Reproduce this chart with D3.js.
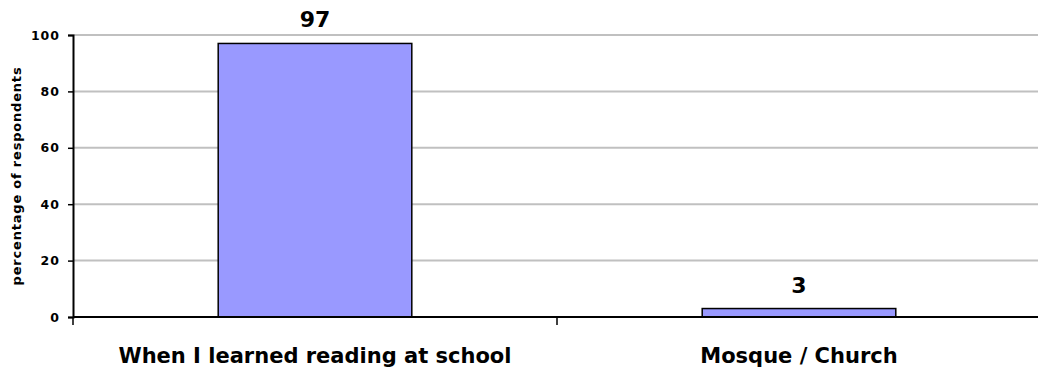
<!DOCTYPE html>
<html>
<head>
<meta charset="utf-8">
<script src="https://cdn.jsdelivr.net/npm/d3@7"></script>
<style>
  html, body { margin: 0; padding: 0; background: #fff; }
  svg { display: block; font-family: "DejaVu Sans", Verdana, sans-serif; }
</style>
</head>
<body>
<svg id="chart" width="1038" height="373"></svg>
<script>
// Where respondents learned to read (percent of respondents)
const categories = ["When I learned reading at school", "Mosque / Church"];
const values = [97, 3];
const yTicks = [0, 20, 40, 60, 80, 100];
const yTitle = "percentage of respondents";

const svg = d3.select("#chart");
const margin = { left: 73, right: -3, top: 35, bottom: 56 };
const W = 1038, H = 373;

const x = d3.scaleBand()
  .domain(categories)
  .range([margin.left, W - margin.right])
  .paddingInner(0.6)
  .paddingOuter(0.3);
const band = d3.scaleBand().domain(categories).range([margin.left, W - margin.right]);

const y = d3.scaleLinear().domain([0, 100]).range([H - margin.bottom, margin.top]);

// horizontal gridlines
svg.append("g")
  .selectAll("line")
  .data(yTicks.filter(d => d > 0))
  .join("line")
  .attr("x1", margin.left)
  .attr("x2", W)
  .attr("y1", d => y(d))
  .attr("y2", d => y(d))
  .attr("stroke", "#c0c0c0")
  .attr("stroke-width", 2);

// bars
svg.append("g")
  .selectAll("rect")
  .data(values)
  .join("rect")
  .attr("x", (d, i) => x(categories[i]))
  .attr("width", x.bandwidth())
  .attr("y", d => y(d))
  .attr("height", d => y(0) - y(d))
  .attr("fill", "#9999ff")
  .attr("stroke", "#000")
  .attr("stroke-width", 1.5);

// value labels
svg.append("g")
  .selectAll("text")
  .data(values)
  .join("text")
  .attr("x", (d, i) => x(categories[i]) + x.bandwidth() / 2)
  .attr("y", d => y(d) - 16)
  .attr("text-anchor", "middle")
  .attr("font-size", 22)
  .attr("font-weight", "bold")
  .text(d => d);

// y axis
const yAxis = svg.append("g")
  .attr("transform", `translate(${margin.left},0)`)
  .call(d3.axisLeft(y).tickValues(yTicks).tickSize(5).tickPadding(8));
yAxis.select(".domain").attr("stroke-width", 2);
yAxis.selectAll(".tick line").attr("stroke-width", 1.5);
yAxis.selectAll(".tick text")
  .attr("font-size", 12.5)
  .attr("font-weight", "bold")
  .attr("letter-spacing", 1)
  .attr("font-family", "DejaVu Sans, Verdana, sans-serif")
  .attr("fill", "#000");

// x axis
const xAxis = svg.append("g")
  .attr("transform", `translate(0,${y(0)})`)
  .call(d3.axisBottom(band).tickSize(0).tickFormat(""));
xAxis.select(".domain").attr("stroke-width", 2).attr("d", `M${margin.left},0H${W}`);
// category separators
svg.append("g")
  .selectAll("line")
  .data(categories)
  .join("line")
  .attr("x1", d => band(d))
  .attr("x2", d => band(d))
  .attr("y1", y(0))
  .attr("y2", y(0) + 8)
  .attr("stroke", "#000")
  .attr("stroke-width", 1.5);

// category labels
svg.append("g")
  .selectAll("text")
  .data(categories)
  .join("text")
  .attr("x", d => band(d) + band.bandwidth() / 2)
  .attr("y", 363)
  .attr("text-anchor", "middle")
  .attr("font-size", 21)
  .attr("font-weight", "bold")
  .text(d => d);

// y axis title
svg.append("text")
  .attr("transform", `translate(21,${(y(0) + y(100)) / 2}) rotate(-90)`)
  .attr("text-anchor", "middle")
  .attr("font-size", 13)
  .attr("letter-spacing", 0.8)
  .attr("font-weight", "bold")
  .text(yTitle);
</script>
</body>
</html>
